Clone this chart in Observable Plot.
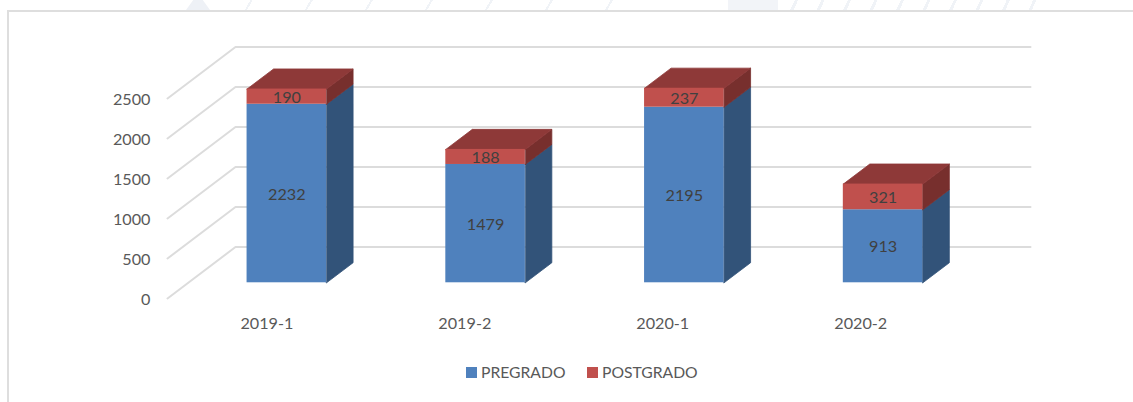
<!DOCTYPE html>
<html>
<head>
<meta charset="utf-8">
<script src="https://cdn.jsdelivr.net/npm/d3@7"></script>
<script src="https://cdn.jsdelivr.net/npm/@observablehq/plot@0.6"></script>
<style>
  html, body { margin: 0; padding: 0; background: #fff; }
  #page { position: relative; width: 1133px; height: 402px; overflow: hidden; font-family: Lato, sans-serif; }
  .wm { position: absolute; top: 0; height: 10px; }
  #wm1 { left: 245px; width: 420px; background: repeating-linear-gradient(-60deg, transparent 0 50px, #f0f3f7 50px 52px); }
  #wm2 { left: 790px; width: 265px; background: repeating-linear-gradient(-65deg, transparent 0 21px, #f0f3f7 21px 24px); }
  #wm3 { left: 186px; width: 24px; background: #eef1f6; clip-path: polygon(30% 0, 70% 0, 100% 100%, 0 100%); }
  #wm4 { left: 728px; width: 50px; background: #f2f4f8; }
  #frame { position: absolute; left: 7px; top: 10px; right: -4px; bottom: -4px; border: 2px solid #dedede; }
  #chart { position: absolute; left: 0; top: 0; }
  #legend { position: absolute; left: 0; top: 362px; width: 1133px; height: 20px; color: #595959; font-size: 15.7px; line-height: 20px; }
  #legend span { position: absolute; top: 0; }
  #legend i { position: absolute; top: 5px; width: 11px; height: 11px; }
</style>
</head>
<body>
<div id="page">
  <div class="wm" id="wm1"></div>
  <div class="wm" id="wm2"></div>
  <div class="wm" id="wm3"></div>
  <div class="wm" id="wm4"></div>
  <div id="frame"></div>
  <div id="chart"></div>
  <div id="legend"></div>
</div>
<script>
const categories = ["2019-1", "2019-2", "2020-1", "2020-2"];
const pregrado = [2232, 1479, 2195, 913];
const postgrado = [190, 188, 237, 321];
const yTicks = [0, 500, 1000, 1500, 2000, 2500];
const seriesNames = ["PREGRADO", "POSTGRADO"];

// Pseudo-3D projection expressed in scale units
const depthX = 68 / 198.75;   // horizontal shift of the back wall, in category bands
const depthY = 643.75;        // vertical shift of the back wall, in value units
const barD0 = 0.305, barD1 = 0.695, barHalf = 0.2;
const P = (band, v, d) => ({x: band + d * depthX, y: v + d * depthY});

function faces(makeCorners) {
  const out = [];
  categories.forEach((c, i) => {
    makeCorners(i).forEach(([band, v, d]) => out.push({face: c, ...P(band, v, d)}));
  });
  return out;
}
const L = i => i + 0.5 - barHalf, R = i => i + 0.5 + barHalf;
const total = i => pregrado[i] + postgrado[i];

const sideBlue = faces(i => [[R(i), 0, barD0], [R(i), 0, barD1], [R(i), pregrado[i], barD1], [R(i), pregrado[i], barD0]]);
const sideRed = faces(i => [[R(i), pregrado[i], barD0], [R(i), pregrado[i], barD1], [R(i), total(i), barD1], [R(i), total(i), barD0]]);
const topRed = faces(i => [[L(i), total(i), barD0], [L(i), total(i), barD1], [R(i), total(i), barD1], [R(i), total(i), barD0]]);

const frontRows = categories.map((c, i) => {
  const a = P(L(i), 0, barD0), b = P(R(i), 0, barD0);
  return {c, x1: a.x, x2: b.x, base: a.y, pre: pregrado[i], post: postgrado[i], cx: (a.x + b.x) / 2};
});

const grid = yTicks.flatMap(t => [
  {t, ...P(0, t, 0)},
  {t, ...P(0, t, 1)},
  {t, ...P(4, t, 1)}
]);

const barShift = -0.8;
const polyOpts = {x: "x", y: "y", z: "face", curve: "linear-closed", dx: barShift, strokeWidth: 0.8};

const chart = Plot.plot({
  width: 1133,
  height: 350,
  marginLeft: 167,
  marginRight: 1133 - 1030,
  marginTop: 46.5,
  marginBottom: 350 - 298,
  style: {fontFamily: "Lato, sans-serif", background: "transparent"},
  x: {domain: [0, 4 + depthX], axis: null},
  y: {domain: [0, 2500 + depthY], axis: null},
  marks: [
    Plot.line(grid, {x: "x", y: "y", z: "t", stroke: "#dcdcdc", strokeWidth: 2, curve: "linear"}),
    Plot.axisY({ticks: yTicks, tickSize: 0, tickPadding: 17, tickFormat: d => String(d), fontSize: 16.2, color: "#595959", label: null, dy: 1}),
    Plot.line(sideBlue, {...polyOpts, fill: "#325379", stroke: "#325379"}),
    Plot.rect(frontRows, {x1: "x1", x2: "x2", y1: "base", y2: d => d.base + d.pre, fill: "#4f81bd", dx: barShift}),
    Plot.line(sideRed, {...polyOpts, fill: "#772f2d", stroke: "#772f2d"}),
    Plot.line(topRed, {...polyOpts, fill: "#8e3938", stroke: "#8e3938"}),
    Plot.rect(frontRows, {x1: "x1", x2: "x2", y1: d => d.base + d.pre, y2: d => d.base + d.pre + d.post, fill: "#c0504d", dx: barShift}),
    Plot.text(frontRows, {x: "cx", y: d => d.base + d.pre / 2, text: d => String(d.pre), fontSize: 16.2, fill: "#404040", dy: 1, dx: -0.8}),
    Plot.text(frontRows, {x: "cx", y: d => d.base + d.pre + d.post / 2, text: d => String(d.post), fontSize: 16.2, fill: "#404040", dy: 1, dx: -0.8}),
    Plot.text(categories, {x: (d, i) => i * 0.996 + 0.5, y: 0, text: d => d, dy: 25, fontSize: 16.2, fill: "#595959"})
  ]
});
document.getElementById("chart").appendChild(chart);

const legend = document.getElementById("legend");
const legendColors = ["#4f81bd", "#c0504d"];
const legendX = [466, 587];
seriesNames.forEach((name, i) => {
  const sw = document.createElement("i");
  sw.style.left = legendX[i] + "px";
  sw.style.background = legendColors[i];
  legend.appendChild(sw);
  const s = document.createElement("span");
  s.style.left = (legendX[i] + 15) + "px";
  s.textContent = name;
  legend.appendChild(s);
});
</script>
</body>
</html>
